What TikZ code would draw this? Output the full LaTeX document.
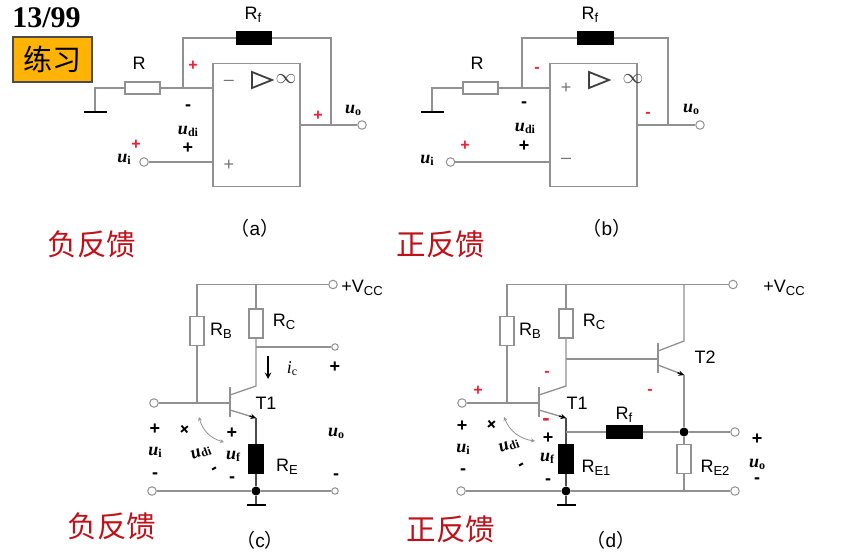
\documentclass[tikz,border=0pt]{standalone}
\usepackage{fontspec}
\setmainfont{Liberation Sans}
\newfontfamily\cjk{Noto Sans CJK SC}
\newfontfamily\titlefont{Liberation Serif}
\usepackage{xcolor}
\usetikzlibrary{arrows,calc,positioning}
\definecolor{fbred}{RGB}{192,16,24}
\definecolor{signred}{RGB}{240,30,50}
\definecolor{wiregray}{RGB}{145,145,145}
\definecolor{boxgold}{RGB}{255,180,5}
\newcommand{\subl}[2]{#1\raisebox{-2.5pt}{\fontsize{13}{13}\selectfont #2}}
\newcommand{\volt}[1]{{\titlefont\bfseries\itshape\fontsize{18}{18}\selectfont u}\raisebox{-2pt}{\titlefont\bfseries\fontsize{12}{12}\selectfont #1}}
\tikzstyle{wire} = [draw=wiregray,line width=1.3pt]
\tikzstyle{wiretip} = [draw=black,line width=1.4pt,-stealth]
\tikzstyle{hres} = [rectangle,draw=wiregray,fill=white,line width=1.2pt,inner sep=0,minimum width=35pt,minimum height=12pt]
\tikzstyle{vres} = [rectangle,draw=wiregray,fill=white,line width=1.2pt,inner sep=0,minimum width=14pt,minimum height=29pt]
\tikzstyle{hfill} = [hres,draw=black,fill=black]
\tikzstyle{vfill} = [vres,draw=black,fill=black]
\tikzstyle{term} = [circle,draw=wiregray,fill=white,line width=1pt,inner sep=0,minimum size=8.5pt]
\tikzstyle{smallterm} = [term,minimum size=6.5pt]
\tikzstyle{soldot} = [circle,fill=black,inner sep=0,minimum size=9pt]
\tikzstyle{gndbar} = [rectangle,fill=black,inner sep=0,minimum width=23pt,minimum height=2.4pt]
\tikzstyle{basebar} = [rectangle,fill=wiregray,inner sep=0,minimum width=1.5pt,minimum height=30pt]
\tikzstyle{opamp} = [rectangle,draw=wiregray,line width=1.2pt,inner sep=0,minimum width=87pt,minimum height=122.5pt]
\tikzstyle{lbl} = [font=\fontsize{18}{18}\selectfont,inner sep=0]
\tikzstyle{sign} = [font=\bfseries\fontsize{18}{18}\selectfont,inner sep=0]
\tikzstyle{redsign} = [sign,text=signred,font=\bfseries\fontsize{16}{16}\selectfont]
\tikzstyle{thinsign} = [font=\fontsize{18}{18}\selectfont,inner sep=0,text=black!55]
\tikzstyle{fb} = [font=\cjk\fontsize{29.5}{30}\selectfont,text=fbred,inner sep=0]
\tikzstyle{captext} = [font=\fontsize{19}{19}\selectfont,inner sep=0]
\begin{document}
\begin{tikzpicture}[x=1pt,y=-1pt]
    \useasboundingbox (0,0) rectangle (842,556);

    % Header
    \node[font=\titlefont\bfseries\fontsize{30}{30}\selectfont,inner sep=0] (title) at (46.5,18) {13/99};
    \node[rectangle,draw=black!70,fill=boxgold,line width=1.2pt,minimum width=79pt,minimum height=45pt,inner sep=0,font=\cjk\fontsize{29}{29}\selectfont] (lianxi) at (52.5,59.5) {练习};

    % Circuit (a)
    \node[opamp] (opa) at (256.5,125) {};
    \node[hres] (Ra) at (142.5,88) {};
    \node[hfill] (Rfa) at (254,38) {};
    \node[gndbar] (gnda) at (95,112) {};
    \node[term] (uia) at (144,162) {};
    \node[term] (uoa) at (362,125) {};
    \coordinate (ja) at (183,88);
    \coordinate (ka) at (331,125);
    \draw[wire] (gnda) |- (Ra.west);
    \draw[wire] (Ra.east) -- (ja) -- (ja -| opa.west);
    \draw[wire] (ja) |- (Rfa.west);
    \draw[wire] (Rfa.east) -| (ka);
    \draw[wire] (ka -| opa.east) -- (uoa);
    \draw[wire] (uia) -- (uia -| opa.west);
    \draw[line width=1.8pt,draw=black!75] (252,72) -- (272,80) -- (252,88) -- cycle;
    \node[font=\fontsize{20}{20}\selectfont,inner sep=0,text=black!75] (infa) at (286,79) {$\infty$};
    \node[thinsign] (mina) at (229,83) {--};
    \node[thinsign] (plua) at (229,165) {+};
    \node[lbl] (Rla) at (139,63) {R};
    \node[lbl] (Rfla) at (253,15) {\subl{R}{f}};
    \node[redsign] (s1a) at (193,66) {+};
    \node[sign] (s2a) at (188,108) {-};
    \node[inner sep=0] (udia) at (188,131) {\volt{di}};
    \node[sign] (s3a) at (188,148) {+};
    \node[redsign] (s4a) at (136,145) {+};
    \node[inner sep=0] (uila) at (124,159) {\volt{i}};
    \node[redsign] (s5a) at (318,116) {+};
    \node[inner sep=0] (uola) at (353,110) {\volt{o}};
    \node[captext] (capa) at (255,228) {{\cjk （}a{\cjk ）}};
    \node[fb] (fba) at (92,244) {负反馈};

    % Circuit (b)
    \node[opamp] (opb) at (593.5,125) {};
    \node[hres] (Rb) at (480.5,88) {};
    \node[hfill] (Rfb) at (595.5,38) {};
    \node[gndbar] (gndb) at (432,112) {};
    \node[term] (uib) at (450.5,162) {};
    \node[term] (uob) at (700,125) {};
    \coordinate (jb) at (522,88);
    \coordinate (kb) at (668,125);
    \draw[wire] (gndb) |- (Rb.west);
    \draw[wire] (Rb.east) -- (jb) -- (jb -| opb.west);
    \draw[wire] (jb) |- (Rfb.west);
    \draw[wire] (Rfb.east) -| (kb);
    \draw[wire] (kb -| opb.east) -- (uob);
    \draw[wire] (uib) -- (uib -| opb.west);
    \draw[line width=1.8pt,draw=black!75] (589,72) -- (609,80) -- (589,88) -- cycle;
    \node[font=\fontsize{20}{20}\selectfont,inner sep=0,text=black!75] (infb) at (633,79) {$\infty$};
    \node[thinsign] (plub) at (566,88) {+};
    \node[thinsign] (minb) at (566,161) {--};
    \node[lbl] (Rlb) at (477,63) {R};
    \node[lbl] (Rflb) at (590,15) {\subl{R}{f}};
    \node[redsign] (s1b) at (537,70) {-};
    \node[sign] (s2b) at (524,105) {-};
    \node[inner sep=0] (udib) at (525,128) {\volt{di}};
    \node[sign] (s3b) at (524,146) {+};
    \node[redsign] (s4b) at (465,146) {+};
    \node[inner sep=0] (uilb) at (427,160) {\volt{i}};
    \node[redsign] (s5b) at (648,115) {-};
    \node[inner sep=0] (uolb) at (691,109) {\volt{o}};
    \node[captext] (capb) at (607,228) {{\cjk （}b{\cjk ）}};
    \node[fb] (fbb) at (441,244) {正反馈};

    % Circuit (c)
    \node[vres] (RBc) at (197,331) {};
    \node[vres] (RCc) at (256,323.5) {};
    \node[vfill] (REc) at (256,459) {};
    \node[term] (vccc) at (333,284.5) {};
    \node[smallterm] (outc) at (335,347) {};
    \node[term] (inc) at (154,403) {};
    \node[term] (inbc) at (152,491) {};
    \node[smallterm] (outbc) at (335,491) {};
    \node[soldot] (dotc) at (256,491) {};
    \node[gndbar,minimum width=19pt] (gndc) at (256,505) {};
    \node[basebar] (T1c) at (230,402) {};
    \coordinate (colc) at (256,386);
    \coordinate (emic) at (256,418);
    \coordinate (topc) at (197,284.5);
    \draw[wire] (RBc.north) -- (topc) -- (vccc);
    \draw[wire] (RBc.south) -- (RBc |- inc);
    \draw[wire] (RCc.north) -- (RCc |- vccc);
    \draw[wire] (RCc.south) -- (colc) -- ($(T1c.center)+(0,-7)$);
    \draw[wire] (RCc |- outc) -- (outc);
    \draw[wire] (inc) -- (inc -| T1c);
    \draw[wire] ($(T1c.center)+(0,8)$) -- (emic);
    \draw[wiretip] ($(T1c.center)!0.75!(emic)+(0,2)$) -- (emic);
    \draw[wire,draw=black!70] (emic) -- (REc.north);
    \draw[wire,draw=black!70] (REc.south) -- (dotc);
    \draw[wire,draw=black!70] (dotc) -- (gndc);
    \draw[wire] (inbc) -- (dotc);
    \draw[wire] (dotc) -- (outbc);
    \coordinate (ic1c) at (268,356);
    \coordinate (ic2c) at (268,379);
    \draw[wiretip,line width=1.8pt] (ic1c) -- (ic2c);
    \coordinate (arc1c) at (199,417);
    \coordinate (arc2c) at (224,442);
    \draw[wire,line width=0.8pt,stealth-stealth] (arc1c) to[bend right=30] (arc2c);
    \node[lbl] (RBlc) at (221,331) {\subl{R}{B}};
    \node[lbl] (RClc) at (284,322) {\subl{R}{C}};
    \node[lbl] (RElc) at (287,467) {\subl{R}{E}};
    \node[lbl] (T1lc) at (266,403) {T1};
    \node[lbl] (vcclc) at (362,288) {+\subl{V}{CC}};
    \node[inner sep=0] (iclc) at (292,369) {{\titlefont\itshape\fontsize{18}{18}\selectfont i}\raisebox{-2pt}{\titlefont\fontsize{12}{12}\selectfont c}};
    \node[sign] (s1c) at (335,367) {+};
    \node[sign] (s2c) at (155,429) {+};
    \node[inner sep=0] (uilc) at (155,452) {\volt{i}};
    \node[sign] (s3c) at (155,476) {-};
    \node[sign,rotate=40] (s4c) at (185,430) {+};
    \node[inner sep=0,rotate=20] (udic) at (201,453) {\volt{di}};
    \node[sign,rotate=30] (s5c) at (215,471) {-};
    \node[sign] (s6c) at (232,433) {+};
    \node[inner sep=0] (ufc) at (233,456) {\volt{f}};
    \node[sign] (s7c) at (232,480) {-};
    \node[inner sep=0] (uolc) at (336,433) {\volt{o}};
    \node[sign] (s8c) at (336,477) {-};
    \node[captext] (capc) at (260,540) {{\cjk （}c{\cjk ）}};
    \node[fb] (fbc) at (112,526) {负反馈};

    % Circuit (d)
    \node[vres] (RBd) at (507,331) {};
    \node[vres] (RCd) at (566,323.5) {};
    \node[vfill] (RE1d) at (566,459) {};
    \node[vres] (RE2d) at (684,459) {};
    \node[hfill] (Rfd) at (624.5,432) {};
    \node[term] (vccd) at (733,284.5) {};
    \node[term] (ind) at (462,403) {};
    \node[term] (inbd) at (461,491) {};
    \node[term] (outd) at (735,432) {};
    \node[term] (outbd) at (735,491) {};
    \node[soldot] (dot1d) at (566,491) {};
    \node[soldot] (dot2d) at (684,432) {};
    \node[gndbar,minimum width=19pt] (gndd) at (566,505) {};
    \node[basebar] (T1d) at (539,402) {};
    \node[basebar] (T2d) at (658,358) {};
    \coordinate (col1d) at (566,386);
    \coordinate (emi1d) at (566,418);
    \coordinate (col2d) at (684,341);
    \coordinate (emi2d) at (684,375);
    \coordinate (topd) at (507,284.5);
    \coordinate (midd) at (566,359);
    \coordinate (fjd) at (566,432);
    \draw[wire] (RBd.north) -- (topd) -- (vccd);
    \draw[wire] (RBd.south) -- (RBd |- ind);
    \draw[wire] (RCd.north) -- (RCd |- vccd);
    \draw[wire] (RCd.south) -- (col1d) -- ($(T1d.center)+(0,-7)$);
    \draw[wire] (midd) -- (midd -| T2d);
    \draw[wire] (ind) -- (ind -| T1d);
    \draw[wire] ($(T1d.center)+(0,8)$) -- (emi1d);
    \draw[wiretip] ($(T1d.center)!0.75!(emi1d)+(0,2)$) -- (emi1d);
    \draw[wire,draw=black!70] (emi1d) -- (RE1d.north);
    \draw[wire,draw=black!70] (RE1d.south) -- (dot1d);
    \draw[wire,draw=black!70] (dot1d) -- (gndd);
    \draw[wire] (col2d |- vccd) -- (col2d) -- ($(T2d.center)+(0,-7)$);
    \draw[wire] ($(T2d.center)+(0,7)$) -- (emi2d);
    \draw[wiretip] ($(T2d.center)!0.75!(emi2d)+(0,2)$) -- (emi2d);
    \draw[wire] (emi2d) -- (dot2d);
    \draw[wire] (fjd) -- (Rfd.west);
    \draw[wire] (Rfd.east) -- (dot2d);
    \draw[wire] (dot2d) -- (outd);
    \draw[wire] (dot2d) -- (RE2d.north);
    \draw[wire] (RE2d.south) -- (RE2d |- outbd);
    \draw[wire] (inbd) -- (dot1d);
    \draw[wire] (dot1d) -- (outbd);
    \coordinate (arc1d) at (504,417);
    \coordinate (arc2d) at (535,441);
    \draw[wire,line width=0.8pt,stealth-stealth] (arc1d) to[bend right=30] (arc2d);
    \node[lbl] (RBld) at (530,331) {\subl{R}{B}};
    \node[lbl] (RCld) at (594,322) {\subl{R}{C}};
    \node[lbl] (RE1ld) at (596,468) {\subl{R}{E1}};
    \node[lbl] (RE2ld) at (715,468) {\subl{R}{E2}};
    \node[lbl] (Rfld) at (624,415) {\subl{R}{f}};
    \node[lbl] (T1ld) at (577,403) {T1};
    \node[lbl] (T2ld) at (705,357) {T2};
    \node[lbl] (vccld) at (784,288) {+\subl{V}{CC}};
    \node[redsign] (s1d) at (547,374) {-};
    \node[redsign] (s2d) at (478,391) {+};
    \node[redsign] (s3d) at (650,392) {-};
    \node[redsign,font=\bfseries\fontsize{22}{22}\selectfont] (s4d) at (546,422) {-};
    \node[sign] (s5d) at (548,438) {+};
    \node[sign,rotate=40] (s6d) at (492,425) {+};
    \node[inner sep=0,rotate=20] (udid) at (509,446) {\volt{di}};
    \node[sign,rotate=30] (s7d) at (522,467) {-};
    \node[sign] (s8d) at (462,426) {+};
    \node[inner sep=0] (uild) at (463,449) {\volt{i}};
    \node[sign] (s9d) at (463,472) {-};
    \node[inner sep=0] (ufd) at (547,458) {\volt{f}};
    \node[sign] (s10d) at (548,482) {-};
    \node[sign] (s11d) at (757,439) {+};
    \node[inner sep=0] (uold) at (757,464) {\volt{o}};
    \node[sign] (s12d) at (757,481) {-};
    \node[captext] (capd) at (611,540) {{\cjk （}d{\cjk ）}};
    \node[fb] (fbd) at (451,529) {正反馈};
\end{tikzpicture}
\end{document}
